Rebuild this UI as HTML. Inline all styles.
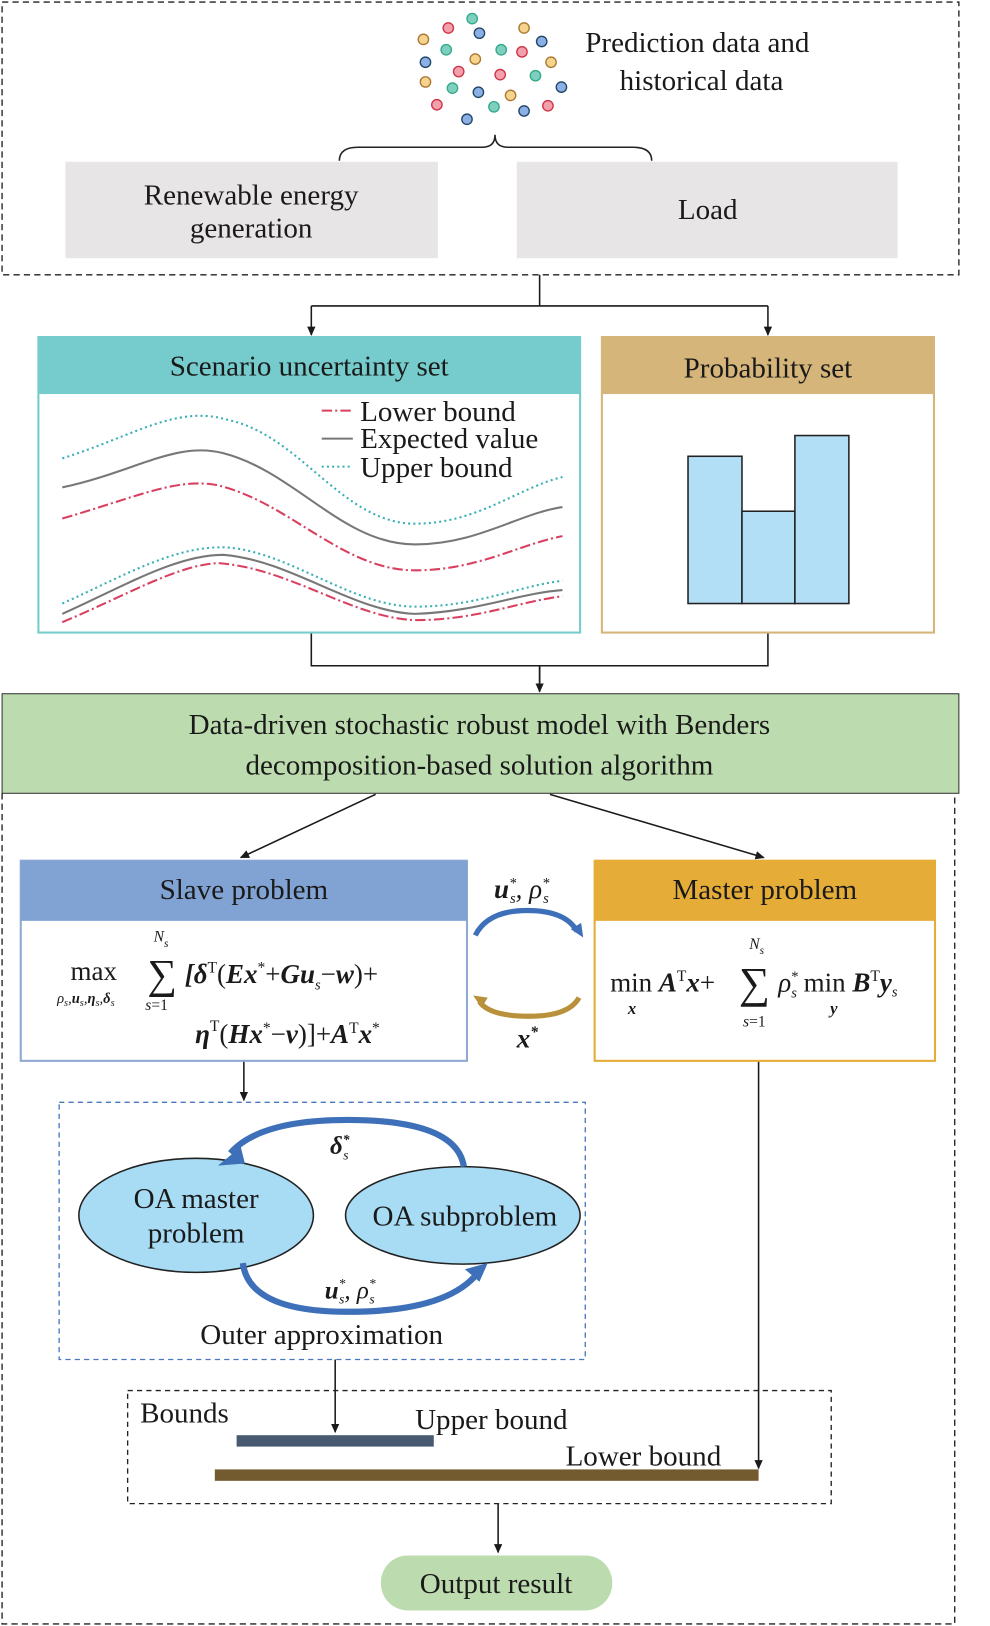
<!DOCTYPE html>
<html><head><meta charset="utf-8"><style>html,body{margin:0;padding:0;background:#fff}svg{display:block}text{font-family:"Liberation Serif",serif;fill:#1a1a1a}</style></head><body>
<svg width="990" height="1626" viewBox="0 0 954 1568" preserveAspectRatio="none" xmlns="http://www.w3.org/2000/svg">
<defs><marker id="a" markerWidth="10" markerHeight="10" refX="8" refY="5" orient="auto" markerUnits="userSpaceOnUse"><path d="M0,1 L9,5 L0,9 Z" fill="#1a1a1a"/></marker></defs>
<rect x="2" y="2" width="922" height="263" fill="none" stroke="#222" stroke-width="1.3" stroke-dasharray="6,4"/>
<g stroke-width="1.3">
<circle cx="455" cy="18" r="5" fill="#7fcfc0" stroke="#3a8"/><circle cx="432" cy="27" r="5" fill="#f3a0ad" stroke="#c34"/><circle cx="462" cy="32" r="5" fill="#8ab0e6" stroke="#246"/><circle cx="505" cy="27" r="5" fill="#f7d48b" stroke="#a73"/><circle cx="522" cy="40" r="5" fill="#8ab0e6" stroke="#246"/><circle cx="408" cy="38" r="5" fill="#f7d48b" stroke="#a73"/><circle cx="430" cy="48" r="5" fill="#7fcfc0" stroke="#3a8"/><circle cx="483" cy="48" r="5" fill="#7fcfc0" stroke="#3a8"/><circle cx="503" cy="50" r="5" fill="#f3a0ad" stroke="#c34"/><circle cx="458" cy="57" r="5" fill="#f7d48b" stroke="#a73"/><circle cx="410" cy="60" r="5" fill="#8ab0e6" stroke="#246"/><circle cx="531" cy="60" r="5" fill="#f7d48b" stroke="#a73"/><circle cx="442" cy="69" r="5" fill="#f3a0ad" stroke="#c34"/><circle cx="482" cy="72" r="5" fill="#f3a0ad" stroke="#c34"/><circle cx="516" cy="73" r="5" fill="#7fcfc0" stroke="#3a8"/><circle cx="410" cy="79" r="5" fill="#f7d48b" stroke="#a73"/><circle cx="436" cy="85" r="5" fill="#7fcfc0" stroke="#3a8"/><circle cx="461" cy="89" r="5" fill="#8ab0e6" stroke="#246"/><circle cx="541" cy="84" r="5" fill="#8ab0e6" stroke="#246"/><circle cx="492" cy="92" r="5" fill="#f7d48b" stroke="#a73"/><circle cx="421" cy="101" r="5" fill="#f3a0ad" stroke="#c34"/><circle cx="476" cy="103" r="5" fill="#7fcfc0" stroke="#3a8"/><circle cx="528" cy="102" r="5" fill="#f3a0ad" stroke="#c34"/><circle cx="505" cy="107" r="5" fill="#8ab0e6" stroke="#246"/><circle cx="450" cy="115" r="5" fill="#8ab0e6" stroke="#246"/>
</g>
<text x="672" y="50" font-size="28" text-anchor="middle">Prediction data and</text>
<text x="676" y="87" font-size="28" text-anchor="middle">historical data</text>
<path d="M327,155 Q327,142 345,142 L465,142 Q477,142 477,130 Q477,142 489,142 L610,142 Q628,142 628,155" fill="none" stroke="#222" stroke-width="1.5"/>
<rect x="63" y="156" width="359" height="93" fill="#e8e5e6"/>
<text x="242" y="197" font-size="28" text-anchor="middle">Renewable energy</text>
<text x="242" y="229" font-size="28" text-anchor="middle">generation</text>
<rect x="498" y="156" width="367" height="93" fill="#e8e5e6"/>
<text x="682" y="211" font-size="28" text-anchor="middle">Load</text>
<g stroke="#1a1a1a" stroke-width="1.5" fill="none">
<path d="M520,265 V295 M300,295 H740"/>
<path d="M300,295 V323" marker-end="url(#a)"/><path d="M740,295 V323" marker-end="url(#a)"/>
<path d="M300,610 V642 H740 V610 M520,642 V667" />
<path d="M520,642 V667" marker-end="url(#a)"/>
</g>
<rect x="37" y="325" width="522" height="285" fill="#fff" stroke="#76cbcc" stroke-width="2"/>
<rect x="37" y="325" width="522" height="55" fill="#76cbcc"/>
<text x="298" y="362" font-size="28" text-anchor="middle">Scenario uncertainty set</text>
<g fill="none" stroke-width="2">
<path d="M60,442 C130,420 170,390 220,405 C290,420 330,505 400,505 C460,505 500,470 542,460" stroke="#3bb0b4" stroke-dasharray="2,3"/>
<path d="M60,470 C130,455 170,425 215,437 C285,455 330,525 400,525 C460,525 500,495 542,489" stroke="#777"/>
<path d="M60,500 C130,480 170,460 210,468 C280,485 330,550 400,550 C460,550 500,525 542,517" stroke="#d94060" stroke-dasharray="10,3,2,3"/>
<path d="M60,582 C120,555 170,525 220,528 C280,533 340,585 400,585 C460,585 500,565 542,560" stroke="#3bb0b4" stroke-dasharray="2,3"/>
<path d="M60,592 C120,565 170,535 215,535 C280,540 340,590 400,592 C460,590 500,572 542,569" stroke="#777"/>
<path d="M60,600 C120,575 170,545 210,543 C280,548 340,596 400,598 C460,598 500,580 542,575" stroke="#d94060" stroke-dasharray="10,3,2,3"/>
<path d="M310,396 H340" stroke="#d94060" stroke-dasharray="10,3,2,3"/>
<path d="M310,423 H340" stroke="#777"/>
<path d="M310,450 H340" stroke="#3bb0b4" stroke-dasharray="2,3"/>
</g>
<text x="347" y="406" font-size="28">Lower bound</text>
<text x="347" y="432" font-size="28">Expected value</text>
<text x="347" y="460" font-size="28">Upper bound</text>
<rect x="580" y="325" width="320" height="285" fill="#fff" stroke="#d6b57a" stroke-width="2"/>
<rect x="580" y="325" width="320" height="55" fill="#d6b57a"/>
<text x="740" y="364" font-size="28" text-anchor="middle">Probability set</text>
<g fill="#b3dff6" stroke="#222" stroke-width="1.5">
<rect x="663" y="440" width="52" height="142"/><rect x="715" y="493" width="51" height="89"/><rect x="766" y="420" width="52" height="162"/>
</g>
<rect x="2" y="669" width="922" height="96" fill="#bcdcaf" stroke="#333" stroke-width="1"/>
<text x="462" y="708" font-size="28" text-anchor="middle">Data-driven stochastic robust model with Benders</text>
<text x="462" y="747" font-size="28" text-anchor="middle">decomposition-based solution algorithm</text>
<path d="M2,765 V1566 H920 V765" fill="none" stroke="#222" stroke-width="1.3" stroke-dasharray="6,4"/>
<g stroke="#1a1a1a" stroke-width="1.5" fill="none">
<path d="M362,766 L232,827" marker-end="url(#a)"/>
<path d="M530,766 L736,827" marker-end="url(#a)"/>
<path d="M235,1023 V1061" marker-end="url(#a)"/>
<path d="M323,1311 V1381" marker-end="url(#a)"/>
<path d="M731,1023 V1416" marker-end="url(#a)"/>
<path d="M480,1450 V1497" marker-end="url(#a)"/>
</g>
<rect x="20" y="830" width="430" height="193" fill="#fff" stroke="#8fa8d4" stroke-width="2"/>
<rect x="20" y="830" width="430" height="58" fill="#81a3d3"/>
<text x="235" y="867" font-size="28" text-anchor="middle">Slave problem</text>
<text x="68" y="945" font-size="26">max</text>
<text x="55" y="967" font-size="14" font-style="italic">ρ<tspan font-size="10" dy="3">s</tspan><tspan dy="-3">,</tspan><tspan font-weight="bold">u</tspan><tspan font-size="10" dy="3">s</tspan><tspan dy="-3">,</tspan><tspan font-weight="bold">η</tspan><tspan font-size="10" dy="3">s</tspan><tspan dy="-3">,</tspan><tspan font-weight="bold">δ</tspan><tspan font-size="10" dy="3">s</tspan></text>
<text x="142" y="953" font-size="40">∑</text>
<text x="148" y="908" font-size="15" font-style="italic">N<tspan font-size="11" dy="5">s</tspan></text>
<text x="140" y="974" font-size="15"><tspan font-style="italic">s</tspan>=1</text>
<text x="178" y="948" font-size="26"><tspan font-weight="bold" font-style="italic">[δ</tspan><tspan font-size="15" dy="-10">T</tspan><tspan dy="10">(</tspan><tspan font-weight="bold" font-style="italic">Ex</tspan><tspan font-size="15" dy="-10">*</tspan><tspan dy="10">+</tspan><tspan font-weight="bold" font-style="italic">Gu</tspan><tspan font-size="14" font-style="italic" dy="6">s</tspan><tspan dy="-6">−</tspan><tspan font-weight="bold" font-style="italic">w</tspan>)+</text>
<text x="188" y="1006" font-size="26"><tspan font-weight="bold" font-style="italic">η</tspan><tspan font-size="15" dy="-12">T</tspan><tspan dy="12">(</tspan><tspan font-weight="bold" font-style="italic">Hx</tspan><tspan font-size="15" dy="-10">*</tspan><tspan dy="10">−</tspan><tspan font-weight="bold" font-style="italic">v</tspan>)]+<tspan font-weight="bold" font-style="italic">A</tspan><tspan font-size="15" dy="-10">T</tspan><tspan dy="10" font-weight="bold" font-style="italic">x</tspan><tspan font-size="15" dy="-10">*</tspan></text>
<rect x="573" y="830" width="328" height="193" fill="#fff" stroke="#e5ac37" stroke-width="2"/>
<rect x="573" y="830" width="328" height="58" fill="#e5ac37"/>
<text x="737" y="867" font-size="28" text-anchor="middle">Master problem</text>
<text x="588" y="956" font-size="26">min <tspan font-weight="bold" font-style="italic">A</tspan><tspan font-size="15" dy="-10">T</tspan><tspan dy="10" font-weight="bold" font-style="italic">x</tspan>+</text>
<text x="605" y="978" font-size="16" font-weight="bold" font-style="italic">x</text>
<text x="712" y="962" font-size="42">∑</text>
<text x="722" y="915" font-size="15" font-style="italic">N<tspan font-size="11" dy="5">s</tspan></text>
<text x="716" y="990" font-size="15"><tspan font-style="italic">s</tspan>=1</text>
<text x="750" y="956" font-size="26"><tspan font-style="italic">ρ</tspan><tspan font-size="14" dy="-10">*</tspan><tspan font-size="14" font-style="italic" dx="-7" dy="16">s</tspan><tspan dy="-6"> min </tspan><tspan font-weight="bold" font-style="italic">B</tspan><tspan font-size="15" dy="-10">T</tspan><tspan dy="10" font-weight="bold" font-style="italic">y</tspan><tspan font-size="14" font-style="italic" dy="5">s</tspan></text>
<text x="800" y="978" font-size="16" font-weight="bold" font-style="italic">y</text>
<path d="M458,902 Q470,878 508,878 Q545,878 556,898" fill="none" stroke="#3d70b8" stroke-width="5"/>
<path d="M550,896 L562,904 L560,890 Z" fill="#3d70b8"/>
<path d="M558,962 Q548,980 510,980 Q472,980 462,966" fill="none" stroke="#b8913a" stroke-width="5"/>
<path d="M456,960 L464,972 L470,962 Z" fill="#b8913a"/>
<text x="476" y="866" font-size="26" font-style="italic"><tspan font-weight="bold">u</tspan><tspan font-size="14" dy="-10">*</tspan><tspan font-size="14" dx="-6" dy="15">s</tspan><tspan dy="-5">, ρ</tspan><tspan font-size="14" dy="-10">*</tspan><tspan font-size="14" dx="-6" dy="15">s</tspan></text>
<text x="498" y="1010" font-size="26" font-weight="bold" font-style="italic">x<tspan font-size="15" dy="-10">*</tspan></text>
<rect x="57" y="1063" width="507" height="248" fill="none" stroke="#4a78c0" stroke-width="1.3" stroke-dasharray="5,4"/>
<ellipse cx="189" cy="1172" rx="113" ry="55" fill="#a8dcf4" stroke="#222" stroke-width="1.5"/>
<ellipse cx="446" cy="1172" rx="113" ry="47" fill="#a8dcf4" stroke="#222" stroke-width="1.5"/>
<text x="189" y="1165" font-size="28" text-anchor="middle">OA master</text>
<text x="189" y="1198" font-size="28" text-anchor="middle">problem</text>
<text x="448" y="1182" font-size="28" text-anchor="middle">OA subproblem</text>
<path d="M447,1125 Q440,1080 335,1080 Q250,1080 222,1112" fill="none" stroke="#3d70b8" stroke-width="6"/>
<path d="M210,1124 L232,1106 L236,1122 Z" fill="#3d70b8"/>
<path d="M234,1218 Q240,1265 335,1265 Q430,1265 460,1228" fill="none" stroke="#3d70b8" stroke-width="6"/>
<path d="M470,1218 L448,1224 L462,1236 Z" fill="#3d70b8"/>
<text x="318" y="1113" font-size="24" font-style="italic" font-weight="bold">δ<tspan font-size="13" dy="-10">*</tspan><tspan font-size="13" dx="-6" dy="15" font-weight="normal">s</tspan></text>
<text x="313" y="1252" font-size="24" font-style="italic"><tspan font-weight="bold">u</tspan><tspan font-size="13" dy="-10">*</tspan><tspan font-size="13" dx="-6" dy="15">s</tspan><tspan dy="-5">, ρ</tspan><tspan font-size="13" dy="-10">*</tspan><tspan font-size="13" dx="-6" dy="15">s</tspan></text>
<text x="310" y="1296" font-size="28" text-anchor="middle">Outer approximation</text>
<rect x="123" y="1341" width="678" height="109" fill="none" stroke="#222" stroke-width="1.3" stroke-dasharray="5,4"/>
<text x="135" y="1372" font-size="28">Bounds</text>
<text x="400" y="1378" font-size="28">Upper bound</text>
<text x="545" y="1413" font-size="28">Lower bound</text>
<rect x="228" y="1384" width="190" height="11" fill="#475a70"/>
<rect x="207" y="1417" width="524" height="11" fill="#735b2f"/>
<rect x="367" y="1500" width="223" height="53" rx="26" fill="#bcdcaf"/>
<text x="478" y="1536" font-size="28" text-anchor="middle">Output result</text>
</svg>
</body></html>
